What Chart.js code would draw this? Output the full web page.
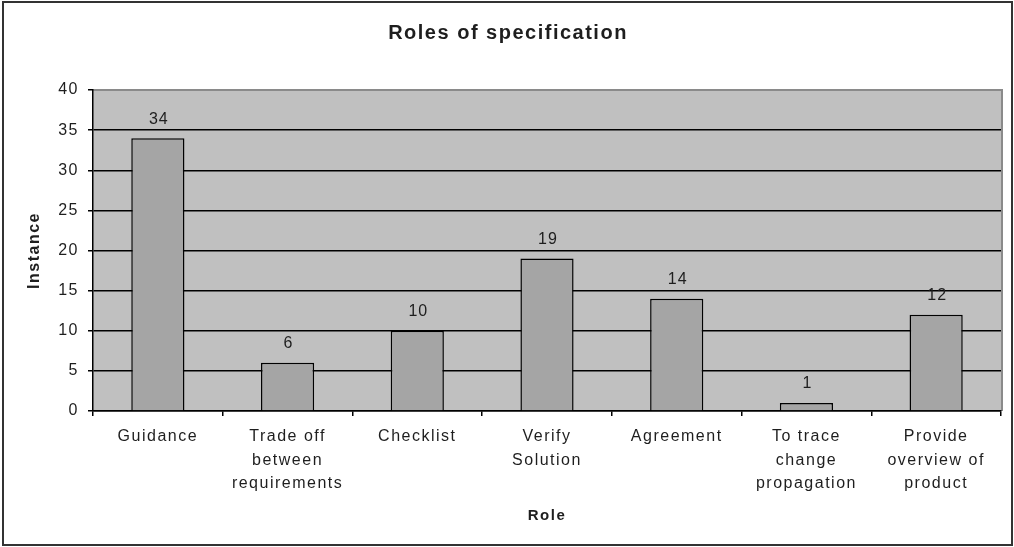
<!DOCTYPE html>
<html>
<head>
<meta charset="utf-8">
<title>Roles of specification</title>
<script src="https://cdn.jsdelivr.net/npm/chart.js@4.4.0/dist/chart.umd.min.js"></script>
<style>
  body { margin: 0; background: #fff; }
  canvas { display: block; }
</style>
</head>
<body>
<canvas id="myChart" width="1014" height="547"></canvas>
<script>
// data
const roles = [
  ['Guidance'],
  ['Trade off', 'between', 'requirements'],
  ['Checklist'],
  ['Verify', 'Solution'],
  ['Agreement'],
  ['To trace', 'change', 'propagation'],
  ['Provide', 'overview of', 'product']
];
const instances = [34, 6, 10, 19, 14, 1, 12];
const yMin = 0;
const yMax = 40;
const yStep = 5;

const chartTitle = 'Roles of specification';
const xTitle = 'Role';
const yTitle = 'Instance';

const FONT = "'Liberation Sans', Arial, sans-serif";
const TEXT = '#1e1e1e';
const SPACING = '1.5px';

// plot background, outer frame, title text and value labels
const decor = {
  id: 'decor',
  beforeLayout(chart) {
    chart.ctx.letterSpacing = SPACING;
  },
  beforeDraw(chart) {
    const ctx = chart.ctx;
    const a = chart.chartArea;
    ctx.save();
    ctx.fillStyle = '#c0c0c0';
    ctx.fillRect(a.left, a.top, a.right - a.left, a.bottom - a.top);
    ctx.strokeStyle = '#8a8a8a';
    ctx.lineWidth = 2;
    ctx.beginPath();
    ctx.moveTo(a.left, a.top);
    ctx.lineTo(a.right + 1, a.top);
    ctx.lineTo(a.right + 1, a.bottom);
    ctx.stroke();
    ctx.restore();
    ctx.letterSpacing = SPACING;
  },
  afterDatasetsDraw(chart) {
    const ctx = chart.ctx;
    const meta = chart.getDatasetMeta(0);
    ctx.save();
    ctx.letterSpacing = '1px';
    ctx.font = '16px ' + FONT;
    ctx.fillStyle = TEXT;
    ctx.textAlign = 'center';
    ctx.textBaseline = 'middle';
    meta.data.forEach((bar, i) => {
      ctx.fillText(String(instances[i]), bar.x + 1, bar.y - 19);
    });
    ctx.restore();
  },
  afterDraw(chart) {
    const ctx = chart.ctx;
    ctx.save();
    ctx.letterSpacing = '1.5px';
    ctx.font = 'bold 20px ' + FONT;
    ctx.fillStyle = TEXT;
    ctx.textAlign = 'center';
    ctx.textBaseline = 'middle';
    ctx.fillText(chartTitle, 508, 33);
    ctx.restore();

    ctx.save();
    ctx.strokeStyle = '#333';
    ctx.lineWidth = 2;
    ctx.strokeRect(3, 2, 1009, 543);
    ctx.restore();
  }
};

const ctx = document.getElementById('myChart');
const chart = new Chart(ctx, {
  type: 'bar',
  data: {
    labels: roles,
    datasets: [{
      data: instances,
      backgroundColor: '#a5a5a5',
      borderColor: '#000',
      borderWidth: 1.5,
      barPercentage: 0.41,
      categoryPercentage: 1
    }]
  },
  options: {
    responsive: false,
    animation: false,
    layout: { padding: { top: 90, right: 13, left: 0, bottom: 0 } },
    plugins: {
      legend: { display: false },
      title: { display: false },
      tooltip: { enabled: false }
    },
    scales: {
      x: {
        afterFit(scale) { scale.height = 136; },
        grid: {
          offset: true,
          drawOnChartArea: false,
          drawTicks: true,
          tickLength: 5,
          color: '#000',
          lineWidth: 1.5
        },
        border: { display: true, color: '#000', width: 1.5 },
        ticks: {
          color: TEXT,
          padding: 9,
          maxRotation: 0,
          autoSkip: false,
          font: { family: FONT, size: 16, lineHeight: 1.47 }
        },
        title: {
          display: true,
          text: xTitle,
          color: TEXT,
          font: { family: FONT, size: 15, weight: 'bold' },
          padding: { top: 0, bottom: 22 }
        }
      },
      y: {
        min: yMin,
        max: yMax,
        afterFit(scale) { scale.width = 93; },
        grid: {
          color: (c) => (c.tick && c.tick.value === yMax ? '#8a8a8a' : '#000'),
          tickColor: '#000',
          lineWidth: 1.5,
          tickLength: 5
        },
        border: { display: true, color: '#000', width: 1.5 },
        ticks: {
          stepSize: yStep,
          color: TEXT,
          padding: 9,
          font: { family: FONT, size: 16 }
        },
        title: {
          display: true,
          text: yTitle,
          color: TEXT,
          font: { family: FONT, size: 16, weight: 'bold' },
          padding: { top: 25, bottom: 0 }
        }
      }
    }
  },
  plugins: [decor]
});
</script>
</body>
</html>
